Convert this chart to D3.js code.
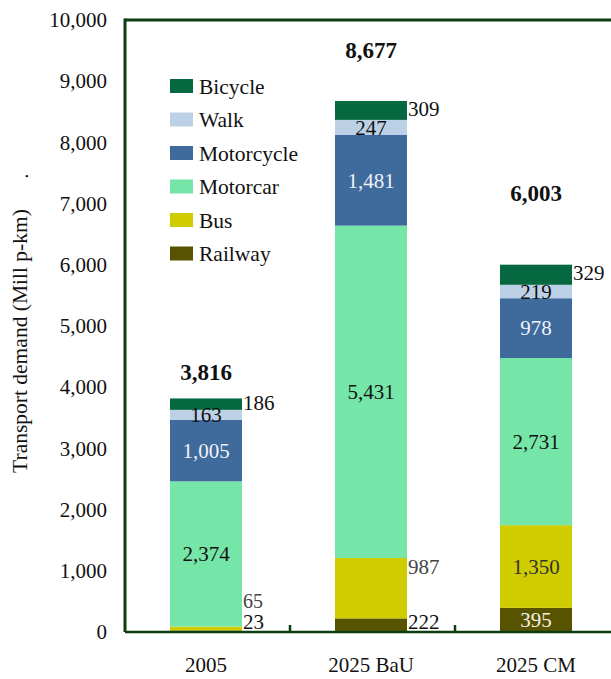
<!DOCTYPE html>
<html>
<head>
<meta charset="utf-8">
<script src="https://cdn.jsdelivr.net/npm/d3@7"></script>
<style>
  html, body { margin: 0; padding: 0; background: #fff; }
  svg { display: block; font-family: "Liberation Serif", "Times New Roman", serif; }
</style>
</head>
<body>
<svg id="chart" width="611" height="679"></svg>
<script>
// Passenger transport demand by mode (million passenger-km)
const categories = ["2005", "2025 BaU", "2025 CM"];
const modes = ["Railway", "Bus", "Motorcar", "Motorcycle", "Walk", "Bicycle"];
const railway    = [23, 222, 395];
const bus        = [65, 987, 1350];
const motorcar   = [2374, 5431, 2731];
const motorcycle = [1005, 1481, 978];
const walk       = [163, 247, 219];
const bicycle    = [186, 309, 329];
const totals     = [3816, 8677, 6003];
const yTicks     = [0, 1000, 2000, 3000, 4000, 5000, 6000, 7000, 8000, 9000, 10000];
const legendOrder = ["Bicycle", "Walk", "Motorcycle", "Motorcar", "Bus", "Railway"];

const colors = {
  Railway: "#575300",
  Bus: "#cfcc00",
  Motorcar: "#76e6a8",
  Motorcycle: "#3f6a9c",
  Walk: "#bcd1e6",
  Bicycle: "#066840"
};

const seriesValues = {
  Railway: railway, Bus: bus, Motorcar: motorcar,
  Motorcycle: motorcycle, Walk: walk, Bicycle: bicycle
};

const rows = categories.map((c, i) => {
  const r = { category: c };
  modes.forEach(m => { r[m] = seriesValues[m][i]; });
  return r;
});

const svg = d3.select("#chart");
const frameColor = "#0b3d0e";
const plotLeft = 125, plotRight = 620, plotTop = 20, plotBottom = 632;

// bars sit a touch left of each category's centre
const x = d3.scaleBand()
  .domain(categories)
  .range([plotLeft - 1.5, plotRight - 1.5])
  .paddingInner(0.5636)
  .paddingOuter(0.2818);

const y = d3.scaleLinear().domain([0, 10000]).range([plotBottom, plotTop]);

const stack = d3.stack().keys(modes);
const layers = stack(rows);

// Bars
const g = svg.append("g");
layers.forEach(layer => {
  g.selectAll(null)
    .data(layer)
    .join("rect")
    .attr("x", d => x(d.data.category))
    .attr("width", x.bandwidth())
    .attr("y", d => y(d[1]))
    .attr("height", d => y(d[0]) - y(d[1]))
    .attr("fill", colors[layer.key]);
});

// Frame: left and top border plus baseline
svg.append("line")
  .attr("x1", plotLeft).attr("x2", plotLeft)
  .attr("y1", plotTop - 1.5).attr("y2", plotBottom)
  .attr("stroke", frameColor).attr("stroke-width", 3);
svg.append("line")
  .attr("x1", plotLeft).attr("x2", 611)
  .attr("y1", plotTop).attr("y2", plotTop)
  .attr("stroke", frameColor).attr("stroke-width", 3);
svg.append("line")
  .attr("x1", plotLeft).attr("x2", 611)
  .attr("y1", plotBottom).attr("y2", plotBottom)
  .attr("stroke", frameColor).attr("stroke-width", 2.5);

// Category boundary ticks
const step = x.step();
const boundaries = categories.slice(1).map((c, i) => plotLeft + step * (i + 1));
svg.selectAll(null)
  .data(boundaries)
  .join("line")
  .attr("x1", d => d).attr("x2", d => d)
  .attr("y1", plotBottom - 7).attr("y2", plotBottom)
  .attr("stroke", frameColor).attr("stroke-width", 2.5);

// Y axis labels
const yAxis = svg.append("g")
  .attr("transform", `translate(${plotLeft - 18},0)`)
  .call(d3.axisLeft(y).tickValues(yTicks).tickFormat(d3.format(",")).tickSize(0).tickPadding(0));
yAxis.select(".domain").remove();
yAxis.selectAll("text")
  .attr("font-family", "Liberation Serif, serif")
  .attr("font-size", 21)
  .attr("fill", "#111");

// Category labels
const xAxis = svg.append("g")
  .attr("transform", `translate(0,${plotBottom})`)
  .call(d3.axisBottom(x).tickSize(0).tickPadding(0));
xAxis.select(".domain").remove();
xAxis.selectAll("text")
  .attr("font-family", "Liberation Serif, serif")
  .attr("font-size", 21)
  .attr("fill", "#111")
  .attr("dy", 0)
  .attr("y", 40);

// Y axis title
svg.append("text")
  .attr("transform", "translate(27,341) rotate(-90)")
  .attr("text-anchor", "middle")
  .attr("font-size", 21.5)
  .attr("fill", "#111")
  .text("Transport demand (Mill p-km)");
svg.append("text")
  .attr("transform", "translate(28,176) rotate(-90)")
  .attr("text-anchor", "middle")
  .attr("font-size", 21)
  .attr("fill", "#111")
  .text(".");

// Segment value labels
const fmt = d3.format(",");
const inside = {
  Railway: [false, false, true],
  Bus: [false, false, true],
  Motorcar: [true, true, true],
  Motorcycle: [true, true, true],
  Walk: [true, true, true],
  Bicycle: [false, false, false]
};
const insideColor = {
  Railway: "#f2f2e6", Bus: "#333333", Motorcar: "#111",
  Motorcycle: "#eef2f8", Walk: "#111", Bicycle: "#111"
};
const outsideColor = { Railway: "#111", Bus: "#444", Bicycle: "#111" };

const labelG = svg.append("g").attr("font-size", 21);
categories.forEach((cat, i) => {
  let lastOutsideY = Infinity;
  layers.forEach(layer => {
    const m = layer.key;
    const d = layer[i];
    const val = seriesValues[m][i];
    const mid = (y(d[0]) + y(d[1])) / 2;
    if (inside[m][i]) {
      labelG.append("text")
        .attr("x", x(cat) + x.bandwidth() / 2)
        .attr("y", mid)
        .attr("dy", "0.35em")
        .attr("text-anchor", "middle")
        .attr("fill", insideColor[m])
        .text(fmt(val));
    } else {
      let cy;
      let size = 21;
      if (m === "Bicycle") {
        cy = mid - 2;
      } else {
        cy = Math.min(y(d[1]) + 9, plotBottom - 10);
        if (lastOutsideY - cy < 21) { cy = lastOutsideY - 21; size = 20; }
        lastOutsideY = cy;
      }
      labelG.append("text")
        .attr("x", x(cat) + x.bandwidth() + 1)
        .attr("y", cy)
        .attr("dy", "0.35em")
        .attr("text-anchor", "start")
        .attr("font-size", size)
        .attr("fill", outsideColor[m])
        .text(fmt(val));
    }
  });
});

// Totals above each bar
const totalLift = [302, 702, 1040];
svg.append("g")
  .selectAll("text")
  .data(categories)
  .join("text")
  .attr("x", c => x(c) + x.bandwidth() / 2)
  .attr("y", (c, i) => y(totals[i] + totalLift[i]))
  .attr("text-anchor", "middle")
  .attr("font-size", 23)
  .attr("font-weight", "bold")
  .attr("fill", "#111")
  .text((c, i) => fmt(totals[i]));

// Legend
const legend = svg.append("g").attr("transform", "translate(170,79)");
const legendRow = 33.5;
legend.selectAll("rect")
  .data(legendOrder)
  .join("rect")
  .attr("x", 0)
  .attr("y", (d, i) => i * legendRow)
  .attr("width", 23)
  .attr("height", 14)
  .attr("fill", d => colors[d]);
legend.selectAll("text")
  .data(legendOrder)
  .join("text")
  .attr("x", 29)
  .attr("y", (d, i) => i * legendRow + 7)
  .attr("dy", "0.35em")
  .attr("font-size", 21.5)
  .attr("fill", "#111")
  .text(d => d);
</script>
</body>
</html>
